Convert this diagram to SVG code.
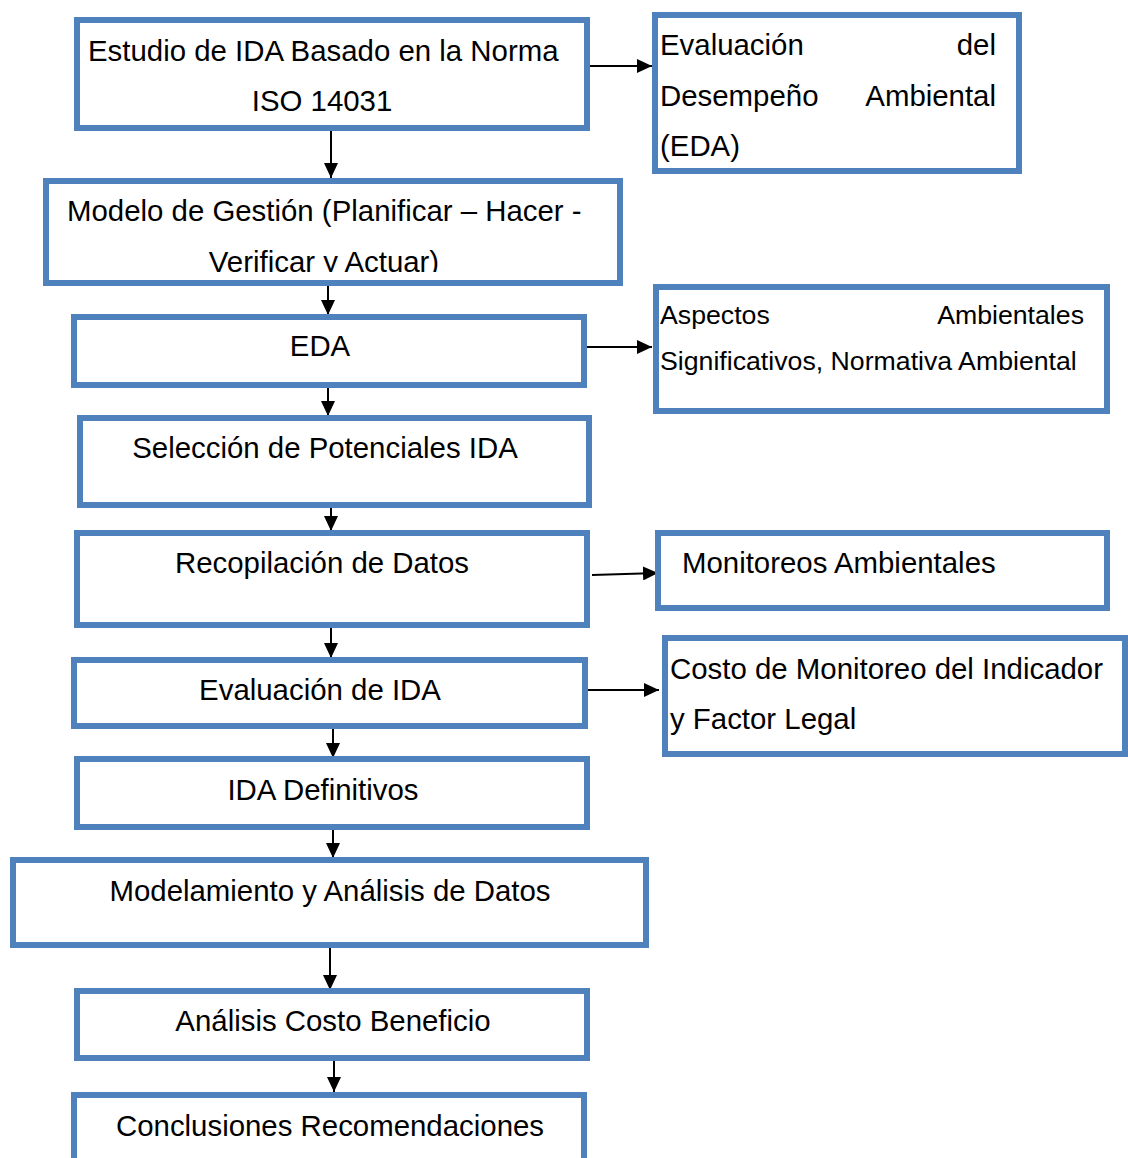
<svg xmlns="http://www.w3.org/2000/svg" width="1128" height="1158" viewBox="0 0 1128 1158">
  <style>
    .box { fill: #ffffff; stroke: #4f81bd; stroke-width: 6; }
    .t { font-family: "Liberation Sans", Arial, sans-serif; font-size: 29.4px; fill: #000000; }
    .s { font-size: 26.7px; }
    .c { text-anchor: middle; }
    .e { text-anchor: end; }
    .link { stroke: #000000; stroke-width: 2; fill: none; marker-end: url(#arrow); }
  </style>
  <defs>
    <marker id="arrow" viewBox="0 0 15 14" refX="15" refY="7" markerWidth="15" markerHeight="14" markerUnits="userSpaceOnUse" orient="auto">
      <path d="M0,0 L15,7 L0,14 z" fill="#000000"/>
    </marker>
    <clipPath id="clipGestion">
      <rect x="46" y="181" width="574" height="91"/>
    </clipPath>
  </defs>
  <rect width="1128" height="1158" fill="#ffffff"/>

  <g id="connectors">
    <line class="link" x1="587" y1="66" x2="652" y2="66"/>
    <line class="link" x1="331" y1="131" x2="331" y2="178"/>
    <line class="link" x1="328" y1="286" x2="328" y2="315"/>
    <line class="link" x1="587" y1="347" x2="652" y2="347"/>
    <line class="link" x1="328" y1="388" x2="328" y2="416"/>
    <line class="link" x1="331" y1="508" x2="331" y2="531"/>
    <line class="link" x1="592" y1="575" x2="658" y2="573"/>
    <line class="link" x1="331" y1="628" x2="331" y2="658"/>
    <line class="link" x1="587" y1="690" x2="659" y2="690"/>
    <line class="link" x1="333" y1="729" x2="333" y2="758"/>
    <line class="link" x1="333" y1="830" x2="333" y2="858"/>
    <line class="link" x1="330" y1="948" x2="330" y2="990"/>
    <line class="link" x1="334" y1="1061" x2="334" y2="1092"/>
  </g>

  <g id="estudio">
    <rect class="box" x="77" y="20" width="510" height="108"/>
    <text class="t" x="88" y="61">Estudio de IDA Basado en la Norma</text>
    <text class="t c" x="322" y="111">ISO 14031</text>
  </g>

  <g id="evaluacion-eda">
    <rect class="box" x="655" y="15" width="364" height="156"/>
    <text class="t" x="660" y="55">Evaluación</text>
    <text class="t e" x="996" y="55">del</text>
    <text class="t" x="660" y="106">Desempeño</text>
    <text class="t e" x="996" y="106">Ambiental</text>
    <text class="t" x="660" y="156">(EDA)</text>
  </g>

  <g id="modelo-gestion">
    <rect class="box" x="46" y="181" width="574" height="102"/>
    <g clip-path="url(#clipGestion)">
      <text class="t" x="67" y="221">Modelo de Gestión (Planificar – Hacer -</text>
      <text class="t c" x="324" y="272">Verificar y Actuar)</text>
    </g>
  </g>

  <g id="eda">
    <rect class="box" x="74" y="317" width="510" height="68"/>
    <text class="t c" x="320" y="356">EDA</text>
  </g>

  <g id="aspectos">
    <rect class="box" x="656" y="287" width="451" height="124"/>
    <text class="t s" x="660" y="324">Aspectos</text>
    <text class="t s e" x="1084" y="324">Ambientales</text>
    <text class="t s" x="660" y="370">Significativos, Normativa Ambiental</text>
  </g>

  <g id="seleccion">
    <rect class="box" x="80" y="418" width="509" height="87"/>
    <text class="t c" x="325" y="458">Selección de Potenciales IDA</text>
  </g>

  <g id="recopilacion">
    <rect class="box" x="77" y="533" width="510" height="92"/>
    <text class="t c" x="322" y="573">Recopilación de Datos</text>
  </g>

  <g id="monitoreos">
    <rect class="box" x="658" y="533" width="449" height="75"/>
    <text class="t" x="682" y="573">Monitoreos Ambientales</text>
  </g>

  <g id="evaluacion-ida">
    <rect class="box" x="74" y="660" width="511" height="66"/>
    <text class="t c" x="320" y="700">Evaluación de IDA</text>
  </g>

  <g id="costo-monitoreo">
    <rect class="box" x="665" y="638" width="460" height="116"/>
    <text class="t" x="670" y="679">Costo de Monitoreo del Indicador</text>
    <text class="t" x="670" y="729">y Factor Legal</text>
  </g>

  <g id="ida-definitivos">
    <rect class="box" x="77" y="759" width="510" height="68"/>
    <text class="t c" x="323" y="800">IDA Definitivos</text>
  </g>

  <g id="modelamiento">
    <rect class="box" x="13" y="860" width="633" height="85"/>
    <text class="t c" x="330" y="901">Modelamiento y Análisis de Datos</text>
  </g>

  <g id="costo-beneficio">
    <rect class="box" x="77" y="991" width="510" height="67"/>
    <text class="t c" x="333" y="1031">Análisis Costo Beneficio</text>
  </g>

  <g id="conclusiones">
    <rect class="box" x="74" y="1095" width="510" height="90"/>
    <text class="t c" x="330" y="1136">Conclusiones Recomendaciones</text>
  </g>
</svg>
